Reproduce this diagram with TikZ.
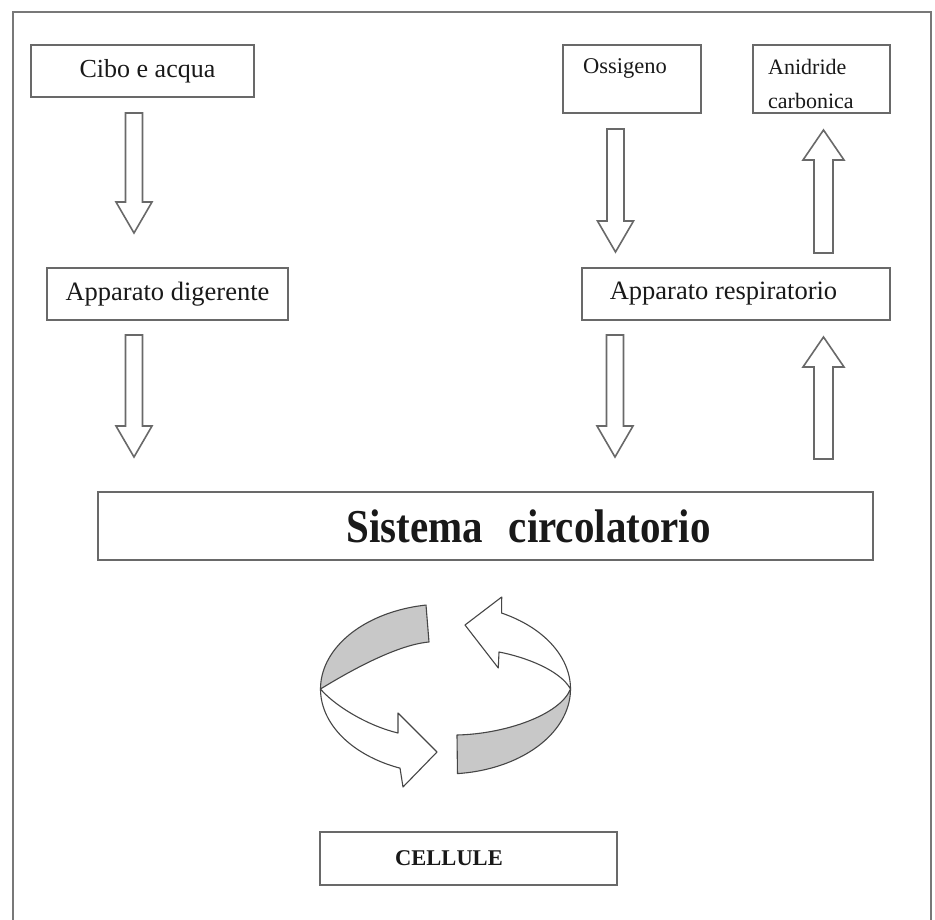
\documentclass[tikz,border=0pt]{standalone}
\usepackage{fontspec}
\usepackage{graphicx}
\setmainfont{Liberation Serif}
\usetikzlibrary{calc}
\definecolor{boxgray}{RGB}{105,105,105}
\definecolor{txtcol}{RGB}{25,25,25}
\definecolor{ribbongray}{RGB}{200,200,200}
\definecolor{framegray}{RGB}{120,120,120}
\definecolor{ribbonline}{RGB}{70,70,70}
\tikzset{
  box/.style={draw=boxgray, line width=2.2pt, fill=white, inner sep=0pt, text=txtcol},
  lbl/.style={inner sep=0pt, text=txtcol},
  blockarr/.style={draw=boxgray, line width=1.6pt, fill=white, line join=miter},
  ribbonedge/.style={draw=ribbonline, line width=1.1pt, line join=round},
}
\newcommand\blockdn[3]{% x, tail y, tip y
  \filldraw[blockarr] (#1-8.5,#2) -- (#1+8.5,#2) -- (#1+8.5,#3-31) -- (#1+18,#3-31) -- (#1,#3) -- (#1-18,#3-31) -- (#1-8.5,#3-31) -- cycle;}
\newcommand\blockup[3]{% x, tail y, tip y
  \filldraw[blockarr] (#1-9.5,#2) -- (#1+9.5,#2) -- (#1+9.5,#3+30) -- (#1+20.5,#3+30) -- (#1,#3) -- (#1-20.5,#3+30) -- (#1-9.5,#3+30) -- cycle;}
\begin{document}
\begin{tikzpicture}[x=1pt, y=-1pt]
\useasboundingbox (0,0) rectangle (935,920);
\fill[white] (0,0) rectangle (935,920);
% outer frame (open at bottom)
\draw[framegray, line width=2pt] (13,925) -- (13,12) -- (931,12) -- (931,925);

% boxes
\node[box, minimum width=223pt, minimum height=52pt, font=\fontsize{26}{30}\selectfont] (cibo) at (142.5,71) {\hspace*{10pt}Cibo e acqua};
\node[box, minimum width=241pt, minimum height=52pt, font=\fontsize{26.5}{30}\selectfont] (dig) at (167.5,294) {Apparato digerente};
\node[box, minimum width=138pt, minimum height=68pt] (oss) at (632,79) {};
\node[lbl, anchor=base west, font=\fontsize{22.5}{27}\selectfont] (ossT) at (583,74) {Ossigeno};
\node[box, minimum width=137pt, minimum height=68pt] (anid) at (821.5,79) {};
\node[lbl, anchor=north west, align=left, font=\fontsize{22}{34}\selectfont] (anidT) at (768,59) {Anidride\\carbonica};
\node[box, minimum width=308pt, minimum height=52pt, font=\fontsize{26.5}{30}\selectfont] (resp) at (736,294) {Apparato respiratorio\hspace*{25pt}};
\node[box, minimum width=775pt, minimum height=68pt, font=\bfseries\fontsize{41}{48}\selectfont] (circ) at (485.5,526) {\hspace*{86pt}\scalebox{1}[1.15]{Sistema\hspace{26pt}circolatorio}};
\node[box, minimum width=297pt, minimum height=53pt, font=\bfseries\fontsize{22.5}{27}\selectfont] (cell) at (468.5,858.5) {CELLULE\hspace*{39pt}};

% block arrows
\blockdn{134}{113}{233}
\blockdn{134}{335}{457}
\blockdn{615.5}{129}{252}
\blockdn{615}{335}{457}
\blockup{823.5}{253}{130}
\blockup{823.5}{459}{337}

% circular ribbon arrows
\filldraw[ribbonedge, fill=ribbongray] (426,605) -- plot[domain=261:180, samples=40] ({445.5+125*cos(\x)},{689+85*sin(\x)}) .. controls (345,674) and (395,645) .. (429,642) -- cycle;
\filldraw[ribbonedge, fill=white] (320.5,689) .. controls (333,704) and (365,725) .. (398,733) -- (398,713) -- (437,752) -- (403,787) -- (400,768) -- plot[domain=111.3:180, samples=40] ({445.5+125*cos(\x)},{689+85*sin(\x)}) -- cycle;
\filldraw[ribbonedge, fill=ribbongray] (457,735) .. controls (505,734) and (560,715) .. (570.5,689) -- plot[domain=0:84.5, samples=40] ({445.5+125*cos(\x)},{689+85*sin(\x)}) -- cycle;
\filldraw[ribbonedge, fill=white] (570.5,689) -- plot[domain=360:296.7, samples=40] ({445.5+125*cos(\x)},{689+85*sin(\x)}) -- (501.7,597) -- (465,625) -- (498.3,668) -- (499,652) .. controls (525,657) and (560,670) .. (570.5,689) -- cycle;
\end{tikzpicture}
\end{document}
